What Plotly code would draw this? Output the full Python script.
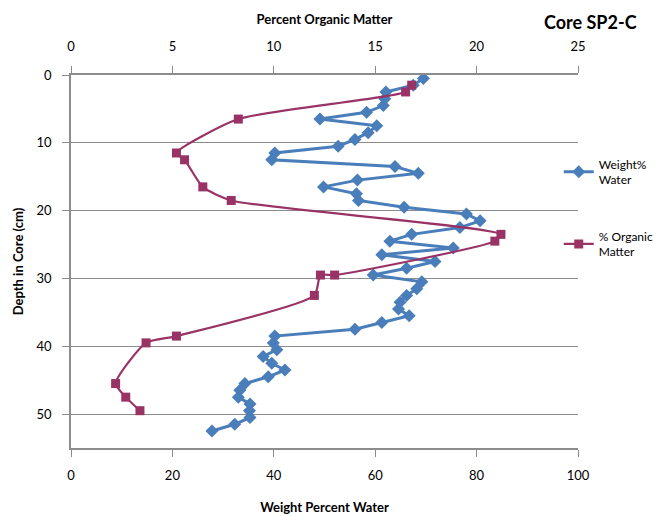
import plotly.graph_objects as go

# Weight % water vs depth
water_depth = [0.5, 1.5, 2.5, 3.5, 4.5, 5.5, 6.5, 7.5, 8.5, 9.5, 10.5, 11.5, 12.5, 13.5,
               14.5, 15.5, 16.5, 17.5, 18.5, 19.5, 20.5, 21.5, 22.5, 23.5, 24.5, 25.5,
               26.5, 27.5, 28.5, 29.5, 30.5, 31.5, 32.5, 33.5, 34.5, 35.5, 36.5, 37.5,
               38.5, 39.5, 40.5, 41.5, 42.5, 43.5, 44.5, 45.5, 46.5, 47.5, 48.5, 49.5,
               50.5, 51.5, 52.5]
water_pct = [69.5, 67.5, 62.1, 61.9, 61.6, 58.3, 49.1, 60.3, 58.6, 56.0, 52.7, 40.2, 39.6, 63.9,
             68.5, 56.5, 49.8, 56.3, 56.7, 65.7, 78.0, 80.7, 76.7, 67.2, 62.9, 75.4,
             61.3, 71.8, 66.2, 59.6, 69.2, 68.2, 66.2, 64.9, 64.6, 66.7, 61.3, 56.0,
             40.2, 39.9, 40.6, 37.9, 39.6, 42.2, 38.9, 34.3, 33.3, 33.0, 35.3, 35.2,
             35.3, 32.3, 27.8]

# % organic matter vs depth
org_depth = [1.5, 2.5, 6.5, 11.5, 12.5, 16.5, 18.5, 23.5, 24.5, 29.5, 29.5, 32.5,
             38.5, 39.5, 45.5, 47.5, 49.5]
org_pct = [16.8, 16.5, 8.25, 5.2, 5.6, 6.5, 7.9, 21.2, 20.9, 13.0, 12.3, 12.0,
           5.2, 3.7, 2.2, 2.7, 3.4]

FONT = "Lato"
GRID = "#8c8c8c"

fig = go.Figure()
fig.add_trace(go.Scatter(
    x=water_pct, y=water_depth, name="Weight%<br>Water", mode="lines+markers",
    line=dict(color="#4a7ebb", width=3),
    marker=dict(symbol="diamond", size=10, color="#4a7ebb"),
    legendgroup="a", xaxis="x", yaxis="y"))
fig.add_trace(go.Scatter(
    x=org_pct, y=org_depth, name="% Organic<br>Matter", mode="lines+markers",
    line=dict(color="#993366", width=2.2, shape="spline", smoothing=0.6),
    marker=dict(symbol="square", size=9, color="#993366"),
    legendgroup="b", xaxis="x2", yaxis="y"))

fig.update_layout(
    width=658, height=509,
    margin=dict(l=63, r=88, t=67, b=69, autoexpand=False),
    paper_bgcolor="white", plot_bgcolor="white",
    font=dict(family=FONT, size=13, color="#000000"),
    showlegend=True,
    legend=dict(x=0.962, y=0.80, xanchor="left", yanchor="top",
                bgcolor="rgba(0,0,0,0)", font=dict(size=12, family=FONT),
                tracegroupgap=38, itemwidth=30),
    xaxis=dict(range=[0, 100], dtick=20, tick0=0, showgrid=False, zeroline=False,
               showline=True, linecolor=GRID, linewidth=1.5, automargin=False,
               ticks="outside", ticklen=7, tickcolor=GRID, ticklabelstandoff=8,
               title=dict(text="<b>Weight Percent Water</b>", font=dict(size=13),
                          standoff=21),
               anchor="y", side="bottom"),
    xaxis2=dict(range=[0, 25], dtick=5, tick0=0, showgrid=False, zeroline=False,
                showline=True, linecolor=GRID, linewidth=1.5, automargin=False,
                ticks="outside", ticklen=7, tickcolor=GRID, ticklabelstandoff=10,
                title=dict(text="<b>Percent Organic Matter</b>", font=dict(size=13),
                           standoff=10),
                overlaying="x", anchor="y", side="top"),
    yaxis=dict(range=[55, 0], dtick=10, tick0=0, showgrid=True, gridcolor=GRID,
               gridwidth=1.2, zeroline=False, showline=True, linecolor=GRID, linewidth=1.5,
               automargin=False,
               ticks="outside", ticklen=7, tickcolor=GRID, ticklabelstandoff=8,
               title=dict(text="<b>Depth in Core (cm)</b>", font=dict(size=13),
                          standoff=10)),
    annotations=[dict(text="<b>Core SP2-C</b>", xref="paper", yref="paper",
                      x=1.024, y=1.142, xanchor="center", yanchor="middle",
                      showarrow=False, font=dict(size=18, family=FONT))],
)

fig.write_html("out.html")
